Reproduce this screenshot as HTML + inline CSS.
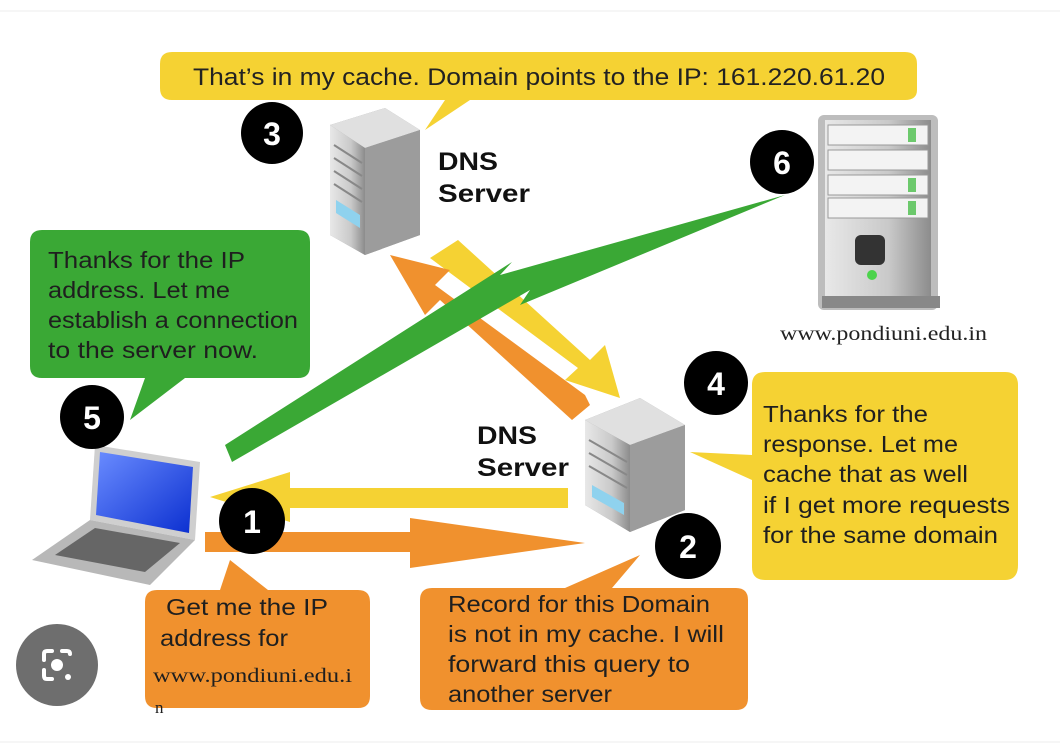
<!DOCTYPE html>
<html><head><meta charset="utf-8"><style>
html,body{margin:0;padding:0;background:#fff;}
svg{display:block;}
text{font-family:"Liberation Sans",sans-serif;}
text.serif{font-family:"Liberation Serif",serif;}
</style></head><body>
<svg width="1060" height="754" viewBox="0 0 1060 754" xmlns="http://www.w3.org/2000/svg">
<defs>
<linearGradient id="srv" x1="0" x2="1"><stop offset="0" stop-color="#e8e8e8"/><stop offset="0.6" stop-color="#c9c9c9"/><stop offset="1" stop-color="#8c8c8c"/></linearGradient>
<linearGradient id="scr" x1="0" y1="0" x2="1" y2="1"><stop offset="0" stop-color="#6a8cff"/><stop offset="1" stop-color="#0b2fd0"/></linearGradient>
</defs>
<rect width="1060" height="754" fill="#fff"/>
<line x1="0" y1="11" x2="1060" y2="11" stroke="#ececec"/>
<line x1="0" y1="742" x2="1060" y2="742" stroke="#ececec"/>

<path d="M172,52 H905 Q917,52 917,64 V90 Q917,100 905,100 H470 L425,130 L445,100 H172 Q160,100 160,88 V64 Q160,52 172,52Z" fill="#f5d233"/>
<text x="193" y="85" font-size="24" fill="#222" textLength="692" lengthAdjust="spacingAndGlyphs">That’s in my cache. Domain points to the IP: 161.220.61.20</text>

<polygon points="430,258 458,240 590,360 605,345 620,398 565,380 578,368" fill="#f5d233"/>
<polygon points="590,405 572,420 440,300 425,315 390,255 450,270 435,285 585,395" fill="#f0912e"/>
<polygon points="225,445 232,462 530,290 520,305 785,195 500,275 512,262" fill="#3aa835"/>
<polygon points="568,488 568,508 290,508 290,522 210,497 290,472 290,488" fill="#f5d233"/>
<polygon points="205,532 205,552 410,552 410,568 585,543 410,518 410,532" fill="#f0912e"/>

<g>
<polygon points="330,125 385,108 420,130 420,235 365,255 330,235" fill="#9a9a9a"/>
<polygon points="330,125 385,108 420,130 365,148" fill="#e0e0e0"/>
<polygon points="330,125 365,148 365,255 330,235" fill="url(#srv)"/>
<polygon points="365,148 420,130 420,235 365,255" fill="#9c9c9c"/>
<g stroke="#888" stroke-width="2"><line x1="334" y1="145" x2="362" y2="163"/><line x1="334" y1="158" x2="362" y2="176"/><line x1="334" y1="171" x2="362" y2="189"/><line x1="334" y1="184" x2="362" y2="202"/></g>
<polygon points="336,200 360,215 360,228 336,213" fill="#8fd2ee"/>
</g>
<text x="438" y="170" font-size="25" font-weight="bold" fill="#111" textLength="60" lengthAdjust="spacingAndGlyphs">DNS</text>
<text x="438" y="202" font-size="25" font-weight="bold" fill="#111" textLength="92" lengthAdjust="spacingAndGlyphs">Server</text>

<g>
<polygon points="585,420 640,398 685,425 685,510 630,532 585,505" fill="#9a9a9a"/>
<polygon points="585,420 640,398 685,425 630,445" fill="#e0e0e0"/>
<polygon points="585,420 630,445 630,532 585,505" fill="url(#srv)"/>
<polygon points="630,445 685,425 685,510 630,532" fill="#9c9c9c"/>
<g stroke="#888" stroke-width="2"><line x1="589" y1="440" x2="627" y2="462"/><line x1="589" y1="453" x2="627" y2="475"/><line x1="589" y1="466" x2="627" y2="488"/></g>
<polygon points="592,485 624,503 624,515 592,497" fill="#8fd2ee"/>
</g>
<text x="477" y="444" font-size="25" font-weight="bold" fill="#111" textLength="60" lengthAdjust="spacingAndGlyphs">DNS</text>
<text x="477" y="476" font-size="25" font-weight="bold" fill="#111" textLength="92" lengthAdjust="spacingAndGlyphs">Server</text>

<g>
<rect x="818" y="115" width="120" height="195" rx="6" fill="#bdbdbd"/>
<rect x="825" y="120" width="106" height="185" fill="url(#srv)"/>
<g fill="#f3f3f3" stroke="#999"><rect x="828" y="125" width="100" height="20"/><rect x="828" y="150" width="100" height="20"/><rect x="828" y="175" width="100" height="20"/><rect x="828" y="198" width="100" height="20"/></g>
<g fill="#6cc96c"><rect x="908" y="128" width="8" height="14"/><rect x="908" y="178" width="8" height="14"/><rect x="908" y="201" width="8" height="14"/></g>
<rect x="855" y="235" width="30" height="30" rx="6" fill="#333"/>
<circle cx="872" cy="275" r="5" fill="#4cd34c"/>
<rect x="822" y="296" width="118" height="12" fill="#888"/>
</g>
<text class="serif" x="780" y="340" font-size="20" fill="#222" textLength="207" lengthAdjust="spacingAndGlyphs">www.pondiuni.edu.in</text>

<path d="M42,230 H298 Q310,230 310,242 V366 Q310,378 298,378 H185 L130,420 L145,378 H42 Q30,378 30,366 V242 Q30,230 42,230Z" fill="#3aa835"/>
<g font-size="23" fill="#1f1f1f">
<text x="48" y="268" textLength="197" lengthAdjust="spacingAndGlyphs">Thanks for the IP</text>
<text x="48" y="298" textLength="182" lengthAdjust="spacingAndGlyphs">address. Let me</text>
<text x="48" y="328" textLength="250" lengthAdjust="spacingAndGlyphs">establish a connection</text>
<text x="48" y="358" textLength="210" lengthAdjust="spacingAndGlyphs">to the server now.</text>
</g>

<path d="M765,372 H1005 Q1018,372 1018,385 V565 Q1018,580 1005,580 H765 Q752,580 752,567 V480 L690,452 L752,455 V385 Q752,372 765,372Z" fill="#f5d233"/>
<g font-size="23" fill="#1f1f1f">
<text x="763" y="422" textLength="165" lengthAdjust="spacingAndGlyphs">Thanks for the</text>
<text x="763" y="452" textLength="195" lengthAdjust="spacingAndGlyphs">response. Let me</text>
<text x="763" y="482" textLength="205" lengthAdjust="spacingAndGlyphs">cache that as well</text>
<text x="763" y="513" textLength="247" lengthAdjust="spacingAndGlyphs">if I get more requests</text>
<text x="763" y="543" textLength="235" lengthAdjust="spacingAndGlyphs">for the same domain</text>
</g>

<g>
<polygon points="95,445 200,462 195,540 90,520" fill="#cfcfcf"/>
<polygon points="100,452 193,467 189,533 96,515" fill="url(#scr)"/>
<polygon points="90,520 195,540 150,585 32,560" fill="#b8b8b8"/>
<polygon points="95,528 180,543 145,572 55,555" fill="#666"/>
</g>

<path d="M157,590 H358 Q370,590 370,602 V696 Q370,708 358,708 H157 Q145,708 145,696 V602 Q145,590 157,590 H220 L230,560 L268,590Z" fill="#f0912e"/>
<g font-size="23" fill="#1f1f1f">
<text x="166" y="615" textLength="162" lengthAdjust="spacingAndGlyphs">Get me the IP</text>
<text x="160" y="646" textLength="128" lengthAdjust="spacingAndGlyphs">address for</text>
<text class="serif" x="153" y="682" font-size="20" textLength="199" lengthAdjust="spacingAndGlyphs">www.pondiuni.edu.i</text>
<text class="serif" x="155" y="713" font-size="17">n</text>
</g>

<path d="M432,588 H736 Q748,588 748,600 V698 Q748,710 736,710 H432 Q420,710 420,698 V600 Q420,588 432,588 H565 L640,555 L612,588Z" fill="#f0912e"/>
<g font-size="23" fill="#1f1f1f">
<text x="448" y="612" textLength="262" lengthAdjust="spacingAndGlyphs">Record for this Domain</text>
<text x="448" y="642" textLength="276" lengthAdjust="spacingAndGlyphs">is not in my cache. I will</text>
<text x="448" y="672" textLength="242" lengthAdjust="spacingAndGlyphs">forward this query to</text>
<text x="448" y="702" textLength="164" lengthAdjust="spacingAndGlyphs">another server</text>
</g>

<g font-size="32" font-weight="bold" fill="#fff" text-anchor="middle">
<circle cx="272" cy="133" r="31" fill="#000"/><text x="272" y="145">3</text>
<circle cx="782" cy="162" r="32" fill="#000"/><text x="782" y="174">6</text>
<circle cx="92" cy="417" r="32" fill="#000"/><text x="92" y="429">5</text>
<circle cx="716" cy="383" r="32" fill="#000"/><text x="716" y="395">4</text>
<circle cx="252" cy="521" r="33" fill="#000"/><text x="252" y="533">1</text>
<circle cx="688" cy="546" r="33" fill="#000"/><text x="688" y="558">2</text>
</g>

<circle cx="57" cy="665" r="41" fill="#6e6e6e"/>
<g stroke="#fff" stroke-width="4" fill="none" stroke-linecap="round">
<path d="M44,660 V654 Q44,651 47,651 H52"/>
<path d="M44,670 V676 Q44,679 47,679 H52"/>
<path d="M62,651 H67 Q70,651 70,654"/>
</g>
<circle cx="57" cy="665" r="6" fill="#fff"/>
<circle cx="68" cy="677" r="3" fill="#fff"/>
</svg>
</body></html>
